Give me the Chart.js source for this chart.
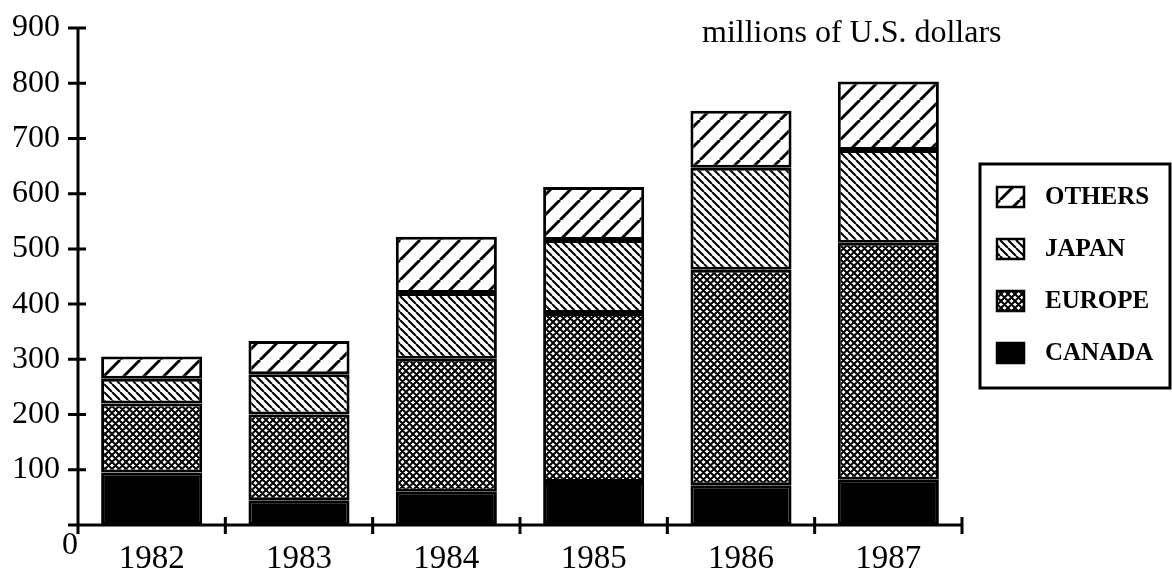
<!DOCTYPE html>
<html>
<head>
<meta charset="utf-8">
<script src="https://cdn.jsdelivr.net/npm/chart.js@4"></script>
<style>
  html, body { margin: 0; padding: 0; background: #fff; }
  canvas { display: block; }
</style>
</head>
<body>
<canvas id="chart" width="1172" height="575"></canvas>
<script>
// Data (millions of U.S. dollars)
const years = ['1982', '1983', '1984', '1985', '1986', '1987'];
const canada = [95, 45, 60, 78, 72, 82];
const europe = [125, 155, 241, 306, 390, 429];
const japan = [45, 73, 119, 132, 185, 168];
const others = [40, 60, 102, 96, 103, 124];
const yTickValues = [0, 100, 200, 300, 400, 500, 600, 700, 800, 900];

const serif = '"Liberation Serif", "Times New Roman", serif';

// Hatch patterns like the old black and white print
function makePattern(kind) {
  const size = kind === 'others' ? 20 : (kind === 'europe' ? 7 : 8);
  const c = document.createElement('canvas');
  c.width = size; c.height = size;
  const g = c.getContext('2d');
  g.fillStyle = '#fff';
  g.fillRect(0, 0, size, size);
  g.strokeStyle = '#000';
  g.lineCap = 'butt';
  const fwd = () => {
    for (const o of [-size, 0, size]) {
      g.moveTo(o, size); g.lineTo(o + size, 0);
    }
  };
  const back = () => {
    for (const o of [-size, 0, size]) {
      g.moveTo(o, 0); g.lineTo(o + size, size);
    }
  };
  g.beginPath();
  if (kind === 'others') { g.lineWidth = 3; fwd(); }
  if (kind === 'japan') { g.lineWidth = 2; back(); }
  if (kind === 'europe') { g.lineWidth = 2; fwd(); back(); }
  g.stroke();
  return g.createPattern(c, 'repeat');
}

const ctx = document.getElementById('chart').getContext('2d');

const decor = {
  id: 'decor',
  afterDraw(chart) {
    const { ctx, chartArea: a, scales: { x, y } } = chart;
    ctx.save();
    ctx.strokeStyle = '#000';
    ctx.fillStyle = '#000';
    ctx.lineWidth = 3;
    ctx.lineCap = 'butt';

    // axes and tick marks crossing them
    ctx.beginPath();
    ctx.moveTo(a.left, y.getPixelForValue(900) - 1);
    ctx.lineTo(a.left, a.bottom + 9);
    ctx.moveTo(a.left - 10, a.bottom);
    ctx.lineTo(a.right, a.bottom);
    yTickValues.forEach(v => {
      if (v === 0) return;
      const py = y.getPixelForValue(v);
      ctx.moveTo(a.left - 10, py);
      ctx.lineTo(a.left + 8, py);
    });
    const step = x.getPixelForValue(1) - x.getPixelForValue(0);
    years.forEach((_, i) => {
      const bx = x.getPixelForValue(i) + step / 2;
      ctx.moveTo(bx, a.bottom - 8);
      ctx.lineTo(bx, a.bottom + 9);
    });
    ctx.stroke();

    // zero label sits below the origin
    ctx.font = '32px ' + serif;
    ctx.textAlign = 'center';
    ctx.textBaseline = 'middle';
    ctx.fillText('0', a.left - 8, a.bottom + 21);

    // unit note
    ctx.textAlign = 'left';
    ctx.textBaseline = 'alphabetic';
    ctx.font = '32px ' + serif;
    ctx.fillText('millions of U.S. dollars', 702, 42);

    // legend box
    ctx.lineWidth = 3;
    ctx.strokeRect(980, 164, 190, 224);
    ctx.font = 'bold 25px ' + serif;
    ctx.textBaseline = 'middle';
    const items = chart.data.datasets.slice().reverse();
    items.forEach((ds, i) => {
      const cy = 197 + i * 52;
      ctx.fillStyle = ds.backgroundColor;
      ctx.fillRect(997, cy - 10, 27, 20);
      ctx.lineWidth = 2.5;
      ctx.strokeRect(997, cy - 10, 27, 20);
      ctx.fillStyle = '#000';
      ctx.fillText(ds.label, 1045, cy + 1);
    });
    ctx.restore();
  }
};

const barStyle = { borderColor: '#000', borderWidth: 3, borderSkipped: false };

new Chart(ctx, {
  type: 'bar',
  data: {
    labels: years,
    datasets: [
      { label: 'CANADA', data: canada, backgroundColor: '#000', ...barStyle },
      { label: 'EUROPE', data: europe, backgroundColor: makePattern('europe'), ...barStyle },
      { label: 'JAPAN', data: japan, backgroundColor: makePattern('japan'), ...barStyle },
      { label: 'OTHERS', data: others, backgroundColor: makePattern('others'), ...barStyle }
    ]
  },
  options: {
    responsive: false,
    animation: false,
    layout: { padding: { top: 28, right: 210, left: 0, bottom: 0 } },
    datasets: { bar: { barPercentage: 0.686, categoryPercentage: 1 } },
    plugins: {
      legend: { display: false },
      tooltip: { enabled: false }
    },
    scales: {
      x: {
        stacked: true,
        offset: true,
        grid: { display: false, drawTicks: false },
        border: { display: false },
        ticks: { color: '#000', font: { family: serif, size: 33 }, padding: 15 },
        afterFit: s => { s.height = 50; s.paddingLeft = 0; s.paddingRight = 0; }
      },
      y: {
        stacked: true,
        min: 0,
        max: 900,
        grid: { display: false, drawTicks: false },
        border: { display: false },
        afterBuildTicks: s => { s.ticks = yTickValues.map(v => ({ value: v })); },
        ticks: {
          color: '#000',
          font: { family: serif, size: 32 },
          padding: 18,
          callback: v => (v === 0 ? '' : v)
        },
        afterFit: s => { s.width = 78; s.paddingTop = 0; s.paddingBottom = 0; }
      }
    }
  },
  plugins: [decor]
});
</script>
</body>
</html>
